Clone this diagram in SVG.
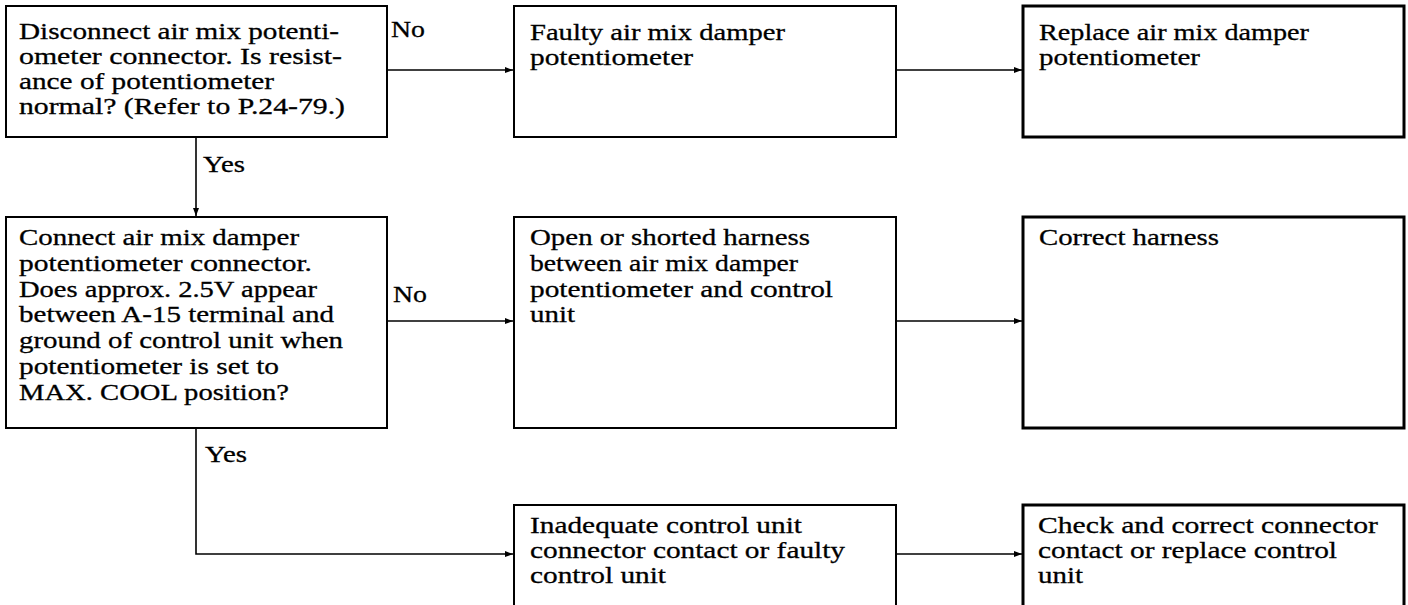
<svg xmlns="http://www.w3.org/2000/svg" width="1408" height="605" viewBox="0 0 1408 605">
  <style>
    .box { fill: #ffffff; stroke: #000000; stroke-width: 2; }
    .box.heavy { stroke-width: 3; }
    .t { font-family: "Liberation Serif", "Times New Roman", serif; font-size: 24px; fill: #000000; stroke: #000000; stroke-width: 0.3; }
    .edge { fill: none; stroke: #000000; stroke-width: 1.6; }
  </style>
  <defs>
    <marker id="arrow" markerUnits="userSpaceOnUse" markerWidth="9" markerHeight="7" refX="8" refY="3" orient="auto">
      <path d="M0,0 L8,3 L0,6 Z" fill="#000000"/>
    </marker>
  </defs>
  <rect width="1408" height="605" fill="#ffffff"/>

  <!-- connectors -->
  <g id="connectors">
    <line class="edge" x1="387" y1="70" x2="513" y2="70" marker-end="url(#arrow)"/>
    <line class="edge" x1="896" y1="70" x2="1022" y2="70" marker-end="url(#arrow)"/>
    <line class="edge" x1="196" y1="137" x2="196" y2="216" marker-end="url(#arrow)"/>
    <line class="edge" x1="387" y1="321" x2="513" y2="321" marker-end="url(#arrow)"/>
    <line class="edge" x1="896" y1="321" x2="1022" y2="321" marker-end="url(#arrow)"/>
    <polyline class="edge" points="196,428 196,554 513,554" marker-end="url(#arrow)"/>
    <line class="edge" x1="896" y1="554" x2="1022" y2="554" marker-end="url(#arrow)"/>
    <text class="t" x="391" y="37" textLength="34" lengthAdjust="spacingAndGlyphs">No</text>
    <text class="t" x="203" y="172" textLength="42" lengthAdjust="spacingAndGlyphs">Yes</text>
    <text class="t" x="393" y="302" textLength="34" lengthAdjust="spacingAndGlyphs">No</text>
    <text class="t" x="205" y="462" textLength="42" lengthAdjust="spacingAndGlyphs">Yes</text>
  </g>

  <!-- first check -->
  <g id="check-resistance">
    <rect class="box" x="6" y="6" width="381" height="131"/>
    <text class="t" x="19" y="39" textLength="320" lengthAdjust="spacingAndGlyphs">Disconnect air mix potenti-</text>
    <text class="t" x="19" y="64" textLength="323" lengthAdjust="spacingAndGlyphs">ometer connector. Is resist-</text>
    <text class="t" x="19" y="89" textLength="255" lengthAdjust="spacingAndGlyphs">ance of potentiometer</text>
    <text class="t" x="19" y="114" textLength="326" lengthAdjust="spacingAndGlyphs">normal? (Refer to P.24-79.)</text>
  </g>

  <g id="faulty-potentiometer">
    <rect class="box" x="514" y="6" width="382" height="131"/>
    <text class="t" x="530" y="40" textLength="255" lengthAdjust="spacingAndGlyphs">Faulty air mix damper</text>
    <text class="t" x="530" y="65" textLength="163" lengthAdjust="spacingAndGlyphs">potentiometer</text>
  </g>

  <g id="replace-potentiometer">
    <rect class="box heavy" x="1023" y="6" width="381" height="131"/>
    <text class="t" x="1039" y="40" textLength="270" lengthAdjust="spacingAndGlyphs">Replace air mix damper</text>
    <text class="t" x="1039" y="65" textLength="161" lengthAdjust="spacingAndGlyphs">potentiometer</text>
  </g>

  <!-- second check -->
  <g id="check-voltage">
    <rect class="box" x="6" y="217" width="381" height="211"/>
    <text class="t" x="19" y="245" textLength="280" lengthAdjust="spacingAndGlyphs">Connect air mix damper</text>
    <text class="t" x="19" y="271" textLength="293" lengthAdjust="spacingAndGlyphs">potentiometer connector.</text>
    <text class="t" x="19" y="297" textLength="298" lengthAdjust="spacingAndGlyphs">Does approx. 2.5V appear</text>
    <text class="t" x="19" y="322" textLength="315" lengthAdjust="spacingAndGlyphs">between A-15 terminal and</text>
    <text class="t" x="19" y="348" textLength="324" lengthAdjust="spacingAndGlyphs">ground of control unit when</text>
    <text class="t" x="19" y="374" textLength="260" lengthAdjust="spacingAndGlyphs">potentiometer is set to</text>
    <text class="t" x="19" y="400" textLength="270" lengthAdjust="spacingAndGlyphs">MAX. COOL position?</text>
  </g>

  <g id="harness-fault">
    <rect class="box" x="514" y="217" width="382" height="211"/>
    <text class="t" x="530" y="245" textLength="280" lengthAdjust="spacingAndGlyphs">Open or shorted harness</text>
    <text class="t" x="530" y="271" textLength="268" lengthAdjust="spacingAndGlyphs">between air mix damper</text>
    <text class="t" x="530" y="297" textLength="303" lengthAdjust="spacingAndGlyphs">potentiometer and control</text>
    <text class="t" x="530" y="322" textLength="45" lengthAdjust="spacingAndGlyphs">unit</text>
  </g>

  <g id="correct-harness">
    <rect class="box heavy" x="1023" y="217" width="381" height="211"/>
    <text class="t" x="1039" y="245" textLength="180" lengthAdjust="spacingAndGlyphs">Correct harness</text>
  </g>

  <!-- control unit branch -->
  <g id="control-unit-fault">
    <rect class="box" x="514" y="505" width="382" height="112"/>
    <text class="t" x="530" y="533" textLength="272" lengthAdjust="spacingAndGlyphs">Inadequate control unit</text>
    <text class="t" x="530" y="558" textLength="315" lengthAdjust="spacingAndGlyphs">connector contact or faulty</text>
    <text class="t" x="530" y="583" textLength="136" lengthAdjust="spacingAndGlyphs">control unit</text>
  </g>

  <g id="check-connector">
    <rect class="box heavy" x="1023" y="505" width="381" height="112"/>
    <text class="t" x="1038" y="533" textLength="340" lengthAdjust="spacingAndGlyphs">Check and correct connector</text>
    <text class="t" x="1038" y="558" textLength="299" lengthAdjust="spacingAndGlyphs">contact or replace control</text>
    <text class="t" x="1038" y="583" textLength="45" lengthAdjust="spacingAndGlyphs">unit</text>
  </g>
</svg>
